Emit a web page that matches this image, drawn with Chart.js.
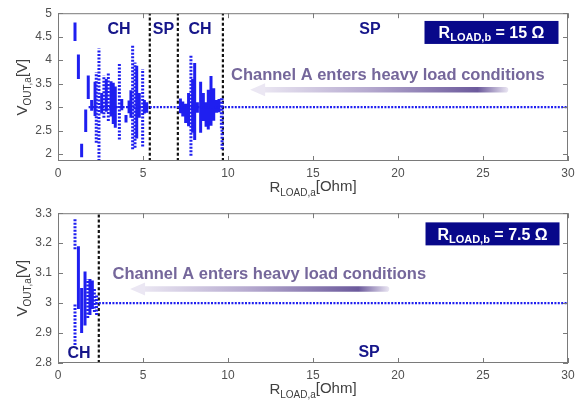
<!DOCTYPE html>
<html>
<head>
<meta charset="utf-8">
<script src="https://cdn.jsdelivr.net/npm/chart.js@4.4.0/dist/chart.umd.min.js"></script>
<style>
  body { margin: 0; background: #fff; }
  .wrap { position: absolute; left: 0; width: 584px; height: 200px; }
</style>
</head>
<body>
<div class="wrap" style="top:0"><canvas id="topChart"></canvas></div>
<div class="wrap" style="top:200px"><canvas id="bottomChart"></canvas></div>
<script>
// tick labels
const xTicks = [0, 5, 10, 15, 20, 25, 30];
const topYTicks = [2, 2.5, 3, 3.5, 4, 4.5, 5];
const bottomYTicks = [2.8, 2.9, 3, 3.1, 3.2, 3.3];

// oscillation bars: [R_LOAD,a, V low, V high]
const topSolidBars = [
  [1.0, 4.41, 4.80], [1.2, 3.60, 4.12], [1.39, 1.93, 2.22], [1.63, 2.47, 2.95],
  [1.78, 3.17, 3.67], [1.98, 2.92, 3.15], [2.18, 2.81, 3.54], [2.57, 2.86, 3.30],
  [2.84, 2.90, 3.60], [3.12, 2.80, 3.55], [3.25, 2.64, 3.52], [3.37, 2.56, 3.44],
  [3.75, 2.93, 3.17], [4.00, 2.67, 2.83], [4.18, 2.87, 3.14], [4.29, 2.77, 3.36],
  [4.63, 2.33, 3.88], [4.78, 2.77, 3.30], [5.08, 2.86, 3.15], [5.22, 2.88, 3.10],
  [7.20, 2.87, 3.18], [7.34, 2.80, 3.12], [7.51, 2.66, 3.07], [7.68, 2.59, 3.30],
  [7.92, 2.45, 3.60], [8.04, 2.30, 3.94], [8.20, 2.88, 3.10], [8.39, 2.45, 3.54],
  [8.55, 2.70, 3.30], [8.71, 2.58, 3.10], [8.84, 2.52, 3.37], [9.00, 2.60, 3.66],
  [9.16, 2.71, 3.40], [9.33, 2.88, 3.15], [9.47, 2.89, 3.17]
];
const topDottedBars = [
  [2.25, 2.24, 3.74], [2.41, 1.85, 4.25], [2.70, 2.77, 3.67], [2.96, 2.70, 3.72],
  [3.61, 2.31, 3.93], [4.39, 2.10, 4.32], [4.53, 2.13, 3.95], [4.98, 2.16, 3.81],
  [7.82, 1.96, 4.10], [9.61, 2.55, 3.20], [9.65, 2.10, 3.18]
];
const topPhaseEdges = [5.4, 7.05, 9.7];
const topSteadyR = [1.8, 30];

const bottomSolidBars = [
  [1.2, 2.98, 3.19], [1.39, 2.90, 3.05], [1.59, 2.925, 3.105],
  [1.88, 2.96, 3.08], [2.02, 2.98, 3.075]
];
const bottomDottedBars = [
  [1.0, 3.18, 3.28], [1.0, 2.86, 3.00], [1.75, 2.95, 3.08],
  [2.14, 2.97, 3.05], [2.27, 2.96, 3.03]
];
const bottomPhaseEdges = [2.4];
const bottomSteadyR = [2.2, 30];

const steadyV = 3;

const BLUE = '#1f1ff0';
const NAVY = '#16168a';
const PURPLE = '#75679b';
const FONT = '"Liberation Sans", Arial, sans-serif';

function barsToPoints(bars) {
  const pts = [];
  bars.forEach(b => {
    pts.push({ x: b[0], y: b[1] }, { x: b[0], y: b[2] }, { x: b[0], y: null });
  });
  return pts;
}

function edgesToPoints(edges, lo, hi) {
  const pts = [];
  edges.forEach(r => {
    pts.push({ x: r, y: lo }, { x: r, y: hi }, { x: r, y: null });
  });
  return pts;
}

// draw a run of text pieces (for subscripts)
function drawParts(ctx, x, y, parts, align) {
  let w = 0;
  parts.forEach(p => { ctx.font = p.font; p.w = ctx.measureText(p.t).width; w += p.w; });
  let cx = align === 'center' ? x - w / 2 : x;
  ctx.textBaseline = 'alphabetic';
  ctx.textAlign = 'left';
  parts.forEach(p => {
    ctx.font = p.font;
    ctx.fillText(p.t, cx, y + (p.dy || 0));
    cx += p.w;
  });
  return w;
}

const framePlugin = {
  id: 'frame',
  afterDraw(chart) {
    const { ctx, chartArea: a, scales } = chart;
    ctx.save();
    ctx.strokeStyle = '#7a7a7a';
    ctx.lineWidth = 1;
    ctx.strokeRect(a.left + 0.5, a.top + 0.5, a.right - a.left - 1, a.bottom - a.top - 1);
    ctx.beginPath();
    scales.x.ticks.forEach(t => {
      const px = Math.round(scales.x.getPixelForValue(t.value)) + 0.5;
      ctx.moveTo(px, a.top); ctx.lineTo(px, a.top + 5);
      ctx.moveTo(px, a.bottom); ctx.lineTo(px, a.bottom - 5);
    });
    scales.y.ticks.forEach(t => {
      const py = Math.round(scales.y.getPixelForValue(t.value)) + 0.5;
      ctx.moveTo(a.left, py); ctx.lineTo(a.left + 5, py);
      ctx.moveTo(a.right, py); ctx.lineTo(a.right - 5, py);
    });
    ctx.stroke();

    // axis titles
    ctx.fillStyle = '#404040';
    const cx = (a.left + a.right) / 2;
    drawParts(ctx, cx, a.bottom + 31, [
      { t: 'R', font: '15px ' + FONT },
      { t: 'LOAD,a', font: '10px ' + FONT, dy: 4 },
      { t: '[Ohm]', font: '15px ' + FONT, dy: -1 }
    ], 'center');
    ctx.translate(27, (a.top + a.bottom) / 2);
    ctx.rotate(-Math.PI / 2);
    drawParts(ctx, 0, 0, [
      { t: 'V', font: '15px ' + FONT },
      { t: 'OUT,a', font: '10px ' + FONT, dy: 4 },
      { t: '[V]', font: '15px ' + FONT }
    ], 'center');
    ctx.restore();
  }
};

const notesPlugin = {
  id: 'notes',
  afterDraw(chart, args, opts) {
    const { ctx, scales } = chart;
    const X = v => scales.x.getPixelForValue(v);
    const Y = v => scales.y.getPixelForValue(v);
    ctx.save();

    // phase labels
    ctx.fillStyle = NAVY;
    ctx.font = 'bold 16px ' + FONT;
    ctx.textAlign = 'center';
    ctx.textBaseline = 'middle';
    opts.phases.forEach(p => ctx.fillText(p.t, X(p.x), Y(p.y)));

    // R_LOAD,b box
    const bx = X(opts.box.x), by = Y(opts.box.y);
    ctx.fillStyle = '#08088a';
    ctx.fillRect(bx - 67, by - 11.5, 134, 23);
    ctx.fillStyle = '#ffffff';
    drawParts(ctx, bx, by + 6, [
      { t: 'R', font: 'bold 16px ' + FONT },
      { t: 'LOAD,b', font: 'bold 11px ' + FONT, dy: 3 },
      { t: ' = ' + opts.box.value + ' \u03A9', font: 'bold 16px ' + FONT }
    ], 'center');

    // arrow
    const x0 = X(opts.arrow.from), x1 = X(opts.arrow.to), ay = Y(opts.arrow.y);
    const g = ctx.createLinearGradient(x0, 0, x1, 0);
    g.addColorStop(0, '#f0edf6');
    g.addColorStop(0.45, '#b7abd0');
    g.addColorStop(0.88, '#6c5a9c');
    g.addColorStop(1, '#ebe7f3');
    ctx.fillStyle = g;
    ctx.beginPath();
    ctx.moveTo(x0 + 12, ay - 2.8);
    ctx.lineTo(x1 - 3, ay - 2.8);
    ctx.arc(x1 - 3, ay, 2.8, -Math.PI / 2, Math.PI / 2);
    ctx.lineTo(x0 + 12, ay + 2.8);
    ctx.closePath();
    ctx.fill();
    ctx.fillStyle = '#ebe7f3';
    ctx.beginPath();
    ctx.moveTo(x0, ay);
    ctx.lineTo(x0 + 15, ay - 6.5);
    ctx.lineTo(x0 + 15, ay + 6.5);
    ctx.closePath();
    ctx.fill();

    // message
    ctx.fillStyle = PURPLE;
    ctx.font = 'bold 16.5px ' + FONT;
    ctx.textAlign = 'center';
    ctx.textBaseline = 'middle';
    ctx.fillText('Channel A enters heavy load conditions', X(opts.text.x), Y(opts.text.y));
    ctx.restore();
  }
};

function makeChart(id, cfg) {
  return new Chart(document.getElementById(id), {
    type: 'scatter',
    data: {
      datasets: [
        { data: [{ x: cfg.steadyR[0], y: steadyV }, { x: cfg.steadyR[1], y: steadyV }],
          showLine: true, borderColor: BLUE, borderWidth: 2.2, borderDash: [2, 1.4], pointRadius: 0 },
        { data: barsToPoints(cfg.solid), showLine: true, borderColor: BLUE,
          borderWidth: 3, borderCapStyle: 'butt', pointRadius: 0, spanGaps: false },
        { data: barsToPoints(cfg.dotted), showLine: true, borderColor: BLUE,
          borderWidth: 3, borderDash: [2, 1.5], borderCapStyle: 'butt', pointRadius: 0, spanGaps: false },
        { data: edgesToPoints(cfg.edges, cfg.yMin, cfg.yMax), showLine: true, borderColor: '#111',
          borderWidth: 2.2, borderDash: [3, 2.2], borderCapStyle: 'butt', pointRadius: 0, spanGaps: false }
      ]
    },
    options: {
      responsive: true,
      maintainAspectRatio: false,
      animation: false,
      layout: { padding: { top: cfg.padTop, right: 16, left: 0, bottom: 0 } },
      plugins: {
        legend: { display: false },
        tooltip: { enabled: false },
        notes: cfg.notes
      },
      scales: {
        x: {
          type: 'linear', min: 0, max: 30,
          afterBuildTicks: s => { s.ticks = xTicks.map(v => ({ value: v })); },
          afterFit: s => { s.height = 200 - cfg.padTop - 150; },
          grid: { display: false, drawTicks: false },
          border: { display: false },
          ticks: { padding: 5, color: '#505050', font: { family: FONT, size: 12 }, callback: v => String(v) }
        },
        y: {
          type: 'linear', min: cfg.yMin, max: cfg.yMax,
          afterBuildTicks: s => { s.ticks = cfg.yTicks.map(v => ({ value: v })); },
          afterFit: s => { s.width = 58; },
          grid: { display: false, drawTicks: false },
          border: { display: false },
          ticks: { padding: 6, color: '#505050', font: { family: FONT, size: 12 }, callback: v => String(v) }
        }
      }
    },
    plugins: [framePlugin, notesPlugin]
  });
}

makeChart('topChart', {
  solid: topSolidBars, dotted: topDottedBars, edges: topPhaseEdges, steadyR: topSteadyR,
  yMin: 1.85, yMax: 5, yTicks: topYTicks, padTop: 11,
  notes: {
    phases: [
      { t: 'CH', x: 3.59, y: 4.64 }, { t: 'SP', x: 6.2, y: 4.64 },
      { t: 'CH', x: 8.35, y: 4.64 }, { t: 'SP', x: 18.35, y: 4.64 }
    ],
    box: { x: 25.5, y: 4.59, value: '15' },
    arrow: { from: 11.3, to: 26.5, y: 3.37 },
    text: { x: 19.4, y: 3.67 }
  }
});

makeChart('bottomChart', {
  solid: bottomSolidBars, dotted: bottomDottedBars, edges: bottomPhaseEdges, steadyR: bottomSteadyR,
  yMin: 2.8, yMax: 3.3, yTicks: bottomYTicks, padTop: 13,
  notes: {
    phases: [{ t: 'CH', x: 1.24, y: 2.83 }, { t: 'SP', x: 18.3, y: 2.835 }],
    box: { x: 25.56, y: 3.231, value: '7.5' },
    arrow: { from: 4.24, to: 19.5, y: 3.047 },
    text: { x: 12.43, y: 3.095 }
  }
});
</script>
</body>
</html>
